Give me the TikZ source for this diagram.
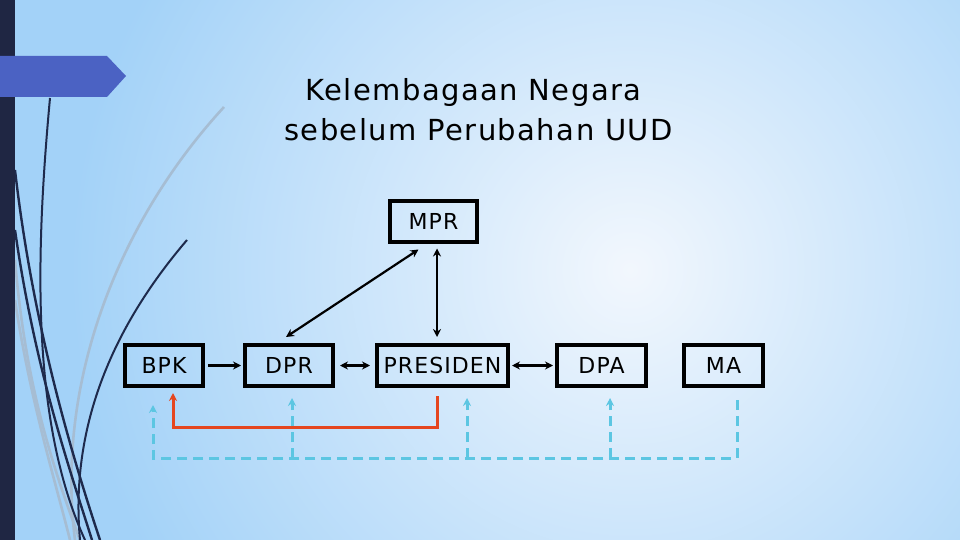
\documentclass[tikz,border=0pt]{standalone}
\usepackage{fontspec}
\usetikzlibrary{arrows.meta}
\newfontfamily\titlefont[LetterSpace=5]{DejaVu Sans}
\newfontfamily\boxfont[LetterSpace=5]{DejaVu Sans}
\definecolor{bgout}{HTML}{A3D2F8}
\definecolor{bgin}{HTML}{F2F7FD}
\definecolor{barc}{HTML}{1F2643}
\definecolor{bannerc}{HTML}{4B62C3}
\definecolor{navy}{HTML}{1E2A4C}
\definecolor{lightc}{HTML}{A6BDD3}
\definecolor{redc}{HTML}{E5461F}
\definecolor{cyanc}{HTML}{5CC6E2}
\tikzset{
  box/.style={draw=black, line width=4pt, minimum height=41pt, inner sep=0pt,
    font=\boxfont\fontsize{22}{26}\selectfont},
  conn/.style={line width=2.2pt, black},
  tipb/.style={-{Stealth[length=8pt,width=8pt]}},
  dtip/.style={{Stealth[length=8pt,width=8pt]}-{Stealth[length=8pt,width=8pt]}},
  redline/.style={line width=3pt, redc, -{Stealth[length=8pt,width=8pt]}},
  cyanline/.style={line width=3pt, cyanc, dash pattern=on 10pt off 6pt},
  cyantip/.style={-{Stealth[length=8pt,width=8pt]}},
  darkcurve/.style={navy, line width=2.4pt},
  lightcurve/.style={lightc, line width=2.6pt},
}
\begin{document}
\begin{tikzpicture}[x=1pt,y=-1pt]
\useasboundingbox (0,0) rectangle (960,540);
% background
\begin{scope}
\clip (0,0) rectangle (960,540);
\fill[bgout] (0,0) rectangle (960,540);
\shade[inner color=bgin, outer color=bgout] (630,270) circle (560);
\end{scope}
% decorative curves
\draw[lightcurve] (224,107) .. controls (120,220) and (55,380) .. (75,540);
\draw[lightcurve] (15,260) .. controls (25,380) and (50,460) .. (80,540);
\draw[lightcurve] (15,300) .. controls (30,400) and (55,480) .. (70,540);
\draw[darkcurve] (15,170) .. controls (30,300) and (60,420) .. (100,540);
\draw[darkcurve] (15,230) .. controls (35,370) and (70,470) .. (92,540);
\draw[darkcurve, line width=2pt] (50,98) .. controls (36,250) and (30,420) .. (85,540);
\draw[darkcurve, line width=2pt] (187,240) .. controls (110,330) and (70,430) .. (80,540);
% left bar and banner
\fill[barc] (0,0) rectangle (15,540);
\fill[bannerc] (0,56) -- (107,56) -- (126,76) -- (107,97) -- (0,97) -- cycle;
% title
\node[font=\titlefont\fontsize{29}{34}\selectfont, inner sep=0pt] (t1) at (473.5,93) {Kelembagaan Negara};
\node[font=\titlefont\fontsize{29}{34}\selectfont, inner sep=0pt] (t2) at (478.5,130) {sebelum Perubahan UUD};
% boxes
\node[box, minimum width=87pt] (mpr) at (433.5,221) {MPR};
\node[box, minimum width=78pt] (bpk) at (164,365.5) {BPK};
\node[box, minimum width=88pt] (dpr) at (289,365.5) {DPR};
\node[box, minimum width=131pt] (presiden) at (442.5,365.5) {PRESIDEN};
\node[box, minimum width=89pt] (dpa) at (601.5,365.5) {DPA};
\node[box, minimum width=79pt] (ma) at (723.5,365.5) {MA};
% black connectors
\draw[conn, dtip] ([xshift=-15pt,yshift=-6pt]mpr.south) -- ([xshift=-3pt,yshift=6pt]dpr.north);
\draw[conn, dtip] ([xshift=3.5pt,yshift=-5pt]mpr.south) -- ([xshift=-5.5pt,yshift=6pt]presiden.north);
\draw[conn, tipb] ([xshift=3pt]bpk.east) -- ([xshift=-2pt]dpr.west);
\draw[conn, dtip] ([xshift=5pt]dpr.east) -- ([xshift=-5pt]presiden.west);
\draw[conn, dtip] ([xshift=2pt]presiden.east) -- ([xshift=-2pt]dpa.west);
% red connector
\draw[redline] ([xshift=-5.5pt,yshift=-8pt]presiden.south) -- ++(0,31) -| ([xshift=9pt,yshift=-5pt]bpk.south);
% cyan dashed connectors
\coordinate (busR) at (737,458);
\path ([xshift=3pt,yshift=-10pt]dpr.south) coordinate (dprin);
\path ([xshift=24.5pt,yshift=-10pt]presiden.south) coordinate (presin);
\path ([xshift=8.5pt,yshift=-10pt]dpa.south) coordinate (dpain);
\draw[cyanline, cyantip] ([xshift=13.5pt,yshift=-12pt]ma.south) -- (busR) -| ([xshift=-11pt,yshift=-17pt]bpk.south);
\draw[cyanline, cyantip] (dprin |- busR) -- (dprin);
\draw[cyanline, cyantip] (presin |- busR) -- (presin);
\draw[cyanline, cyantip] (dpain |- busR) -- (dpain);
\end{tikzpicture}
\end{document}
